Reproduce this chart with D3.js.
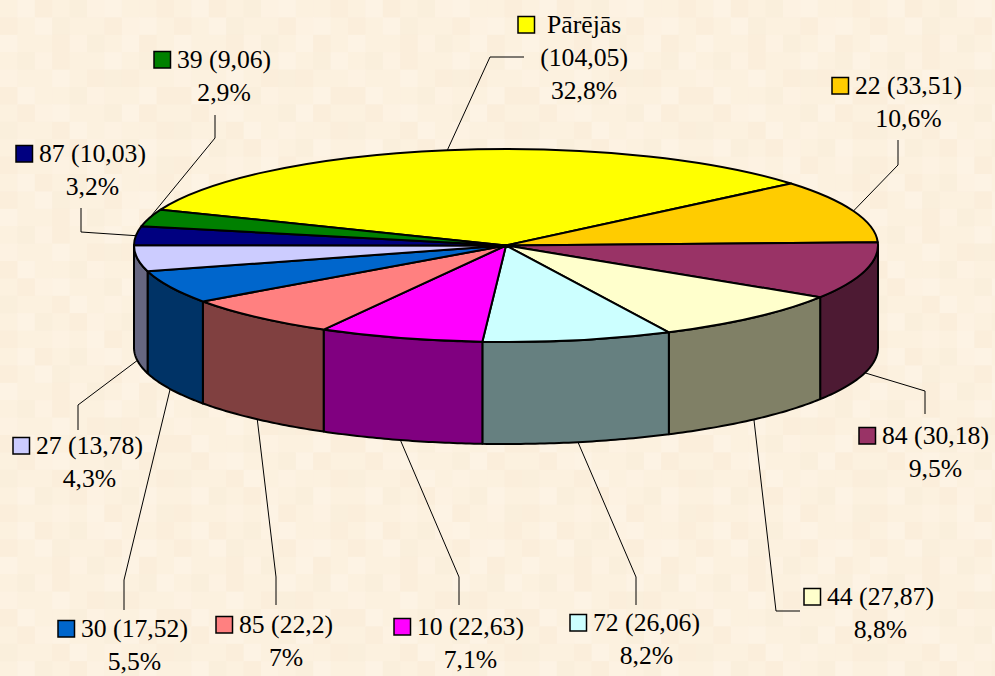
<!DOCTYPE html>
<html lang="en">
<head>
<meta charset="UTF-8">
<title>Pie</title>
<script src="https://d3js.org/d3.v7.min.js"></script>
<style>
  html, body { margin: 0; padding: 0; background: #fcf1df; }
  svg { display: block; }
  text { font-family: "Liberation Serif", serif; font-size: 25.7px; fill: #000; }
</style>
</head>
<body>
<svg id="chart" width="995" height="676"></svg>
<script>
const categories = ['Pārējās', '22', '84', '44', '72', '10', '85', '30', '27', '87', '39'];
const values = [104.05, 33.51, 30.18, 27.87, 26.06, 22.63, 22.2, 17.52, 13.78, 10.03, 9.06];
const shares = ['32,8%', '10,6%', '9,5%', '8,8%', '8,2%', '7,1%', '7%', '5,5%', '4,3%', '3,2%', '2,9%'];
const colors = ['#ffff00', '#ffcc00', '#993366', '#ffffcc', '#ccffff', '#ff00ff', '#ff8080', '#0066cc', '#ccccff', '#000080', '#008000'];

// where each legend key sits, and the baseline of its first text row
const keySpots = [[518, 33], [832, 94], [859, 444], [804, 605], [570, 631], [394, 635], [216, 633], [58, 637], [13, 454], [16, 162], [154, 68]];
// leader line bends, the first point comes from the slice itself
const leaderBends = [
  [[490, 57], [524, 57]],
  [[898, 165], [898, 140]],
  [[925, 391], [925, 414]],
  [[776, 611], [800, 611]],
  [[636, 577], [636, 605]],
  [[459, 577], [459, 605]],
  [[276, 577], [276, 605]],
  [[124, 580], [124, 610]],
  [[78, 405], [78, 430]],
  [[81, 232], [81, 208]],
  [[215, 138], [215, 115]]
];

// background tiles, one digit per tile
const tileShades = ['#fcf1df', '#fdf3e4', '#fbeedb', '#faefdc', '#fdf2e2'];
const tileRows = [
  '0120341002', '2013002410', '1002430120', '0342001031', '4001023200',
  '2100340012', '0241003120', '3002104002', '0130240310', '2004012043'
];

const width = 995, height = 676;
const tile = 17.4;
const cx = 506, cy = 245.5, rx = 372, ry = 96.5, depth = 102;

const svg = d3.select('#chart');

// background
const pattern = svg.append('defs').append('pattern')
  .attr('id', 'paper')
  .attr('patternUnits', 'userSpaceOnUse')
  .attr('width', tile * 10)
  .attr('height', tile * 10);
tileRows.forEach((row, r) => {
  row.split('').forEach((d, c) => {
    pattern.append('rect')
      .attr('x', c * tile).attr('y', r * tile)
      .attr('width', tile + 0.5).attr('height', tile + 0.5)
      .attr('fill', tileShades[+d]);
  });
});
svg.append('rect').attr('width', width).attr('height', height).attr('fill', 'url(#paper)');

// d3.pie angle 0 is 12 o'clock, going clockwise
const pie = d3.pie().sort(null).startAngle(-1.19).endAngle(-1.19 + 2 * Math.PI);
const slices = pie(values);

const ex = a => cx + rx * Math.sin(a);
const ey = a => cy - ry * Math.cos(a);

// leaders go under the pie
const line = d3.line();
slices.forEach((s, i) => {
  const mid = (s.startAngle + s.endAngle) / 2;
  const norm = ((mid % (2 * Math.PI)) + 2 * Math.PI) % (2 * Math.PI);
  // front half of the ellipse: leader leaves from the lower rim
  const front = norm > Math.PI / 2 && norm < 3 * Math.PI / 2;
  const start = [ex(mid), ey(mid) + (front ? depth : 0)];
  svg.append('path')
    .attr('d', line([start, ...leaderBends[i]]))
    .attr('fill', 'none')
    .attr('stroke', '#000')
    .attr('stroke-width', 1);
});

// side wall, only the front half of the ellipse shows
const frontFrom = Math.PI / 2, frontTo = 3 * Math.PI / 2;
slices.forEach((s, i) => {
  const a0 = Math.max(s.startAngle, frontFrom);
  const a1 = Math.min(s.endAngle, frontTo);
  if (a1 <= a0) return;
  const steps = d3.range(0, 41).map(t => a0 + (a1 - a0) * t / 40);
  const rim = steps.map(a => [ex(a), ey(a)]);
  const base = steps.slice().reverse().map(a => [ex(a), ey(a) + depth]);
  const c = d3.rgb(colors[i]);
  svg.append('path')
    .attr('d', line([...rim, ...base]) + 'Z')
    .attr('fill', d3.rgb(c.r / 2, c.g / 2, c.b / 2))
    .attr('stroke', '#000')
    .attr('stroke-width', 2)
    .attr('stroke-linejoin', 'round');
});

// top face
const arc = d3.arc().innerRadius(0).outerRadius(rx);
svg.append('g')
  .attr('transform', `translate(${cx},${cy}) scale(1,${ry / rx})`)
  .selectAll('path')
  .data(slices)
  .join('path')
  .attr('d', arc)
  .attr('fill', (d, i) => colors[i])
  .attr('stroke', '#000')
  .attr('stroke-width', 2)
  .attr('stroke-linejoin', 'round')
  .attr('vector-effect', 'non-scaling-stroke');

// labels
categories.forEach((name, i) => {
  const [kx, ky] = keySpots[i];
  const num = String(values[i]).replace('.', ',');
  const g = svg.append('g');
  g.append('rect')
    .attr('x', kx).attr('y', ky - 16.5)
    .attr('width', 16.5).attr('height', 16.5)
    .attr('fill', colors[i])
    .attr('stroke', '#000')
    .attr('stroke-width', 1.5);
  const rows = i === 0 ? [name, `(${num})`, shares[i]] : [`${name} (${num})`, shares[i]];
  const first = g.append('text')
    .attr('x', kx + (i === 0 ? 29 : 23)).attr('y', ky)
    .text(rows[0]);
  const mx = kx + (i === 0 ? 29 : 23) + first.node().getComputedTextLength() / 2;
  rows.slice(1).forEach((r, j) => {
    g.append('text')
      .attr('x', mx)
      .attr('y', ky + (j + 1) * 33)
      .attr('text-anchor', 'middle')
      .text(r);
  });
});
</script>
</body>
</html>
